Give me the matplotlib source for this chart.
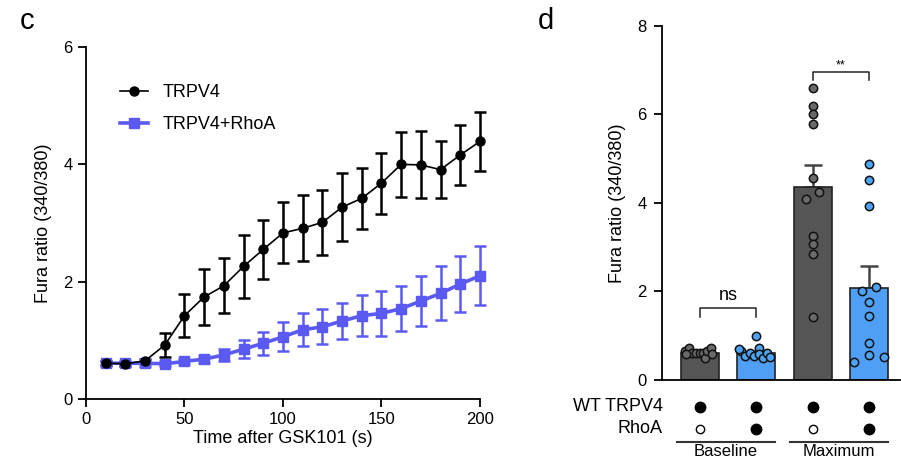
import numpy as np
import matplotlib.pyplot as plt

plt.rcParams["font.family"] = ["Liberation Sans", "DejaVu Sans"]

# ── panel c: time course ──────────────────────────────────────────────
time_s = [10, 20, 30, 40, 50, 60, 70, 80, 90, 100,
          110, 120, 130, 140, 150, 160, 170, 180, 190, 200]
trpv4_mean = [0.61, 0.60, 0.65, 0.92, 1.42, 1.74, 1.93, 2.26, 2.55, 2.83,
              2.91, 3.01, 3.27, 3.42, 3.68, 4.00, 3.99, 3.91, 4.16, 4.39]
trpv4_sem = [0.03, 0.03, 0.04, 0.20, 0.37, 0.48, 0.47, 0.53, 0.50, 0.52,
             0.56, 0.56, 0.58, 0.52, 0.52, 0.55, 0.57, 0.48, 0.51, 0.50]
rhoa_mean = [0.61, 0.61, 0.61, 0.60, 0.64, 0.68, 0.75, 0.85, 0.95, 1.06,
             1.18, 1.23, 1.33, 1.42, 1.46, 1.54, 1.67, 1.80, 1.96, 2.10]
rhoa_sem = [0.04, 0.04, 0.04, 0.04, 0.05, 0.06, 0.11, 0.15, 0.20, 0.25,
            0.28, 0.30, 0.31, 0.35, 0.38, 0.38, 0.42, 0.46, 0.48, 0.50]

# ── panel d: bars + individual cells ──────────────────────────────────
bar_means = [0.62, 0.61, 4.37, 2.09]
bar_sem = [0.03, 0.04, 0.49, 0.49]
bar_colors = ["#555555", "#4f9ff7", "#555555", "#4f9ff7"]
dot_colors = ["#6a6a6a", "#4da3f5", "#6a6a6a", "#4da3f5"]
pts_baseline_wt = [0.65, 0.72, 0.60, 0.62, 0.60, 0.60, 0.50, 0.65, 0.72, 0.58, 0.58]
jit_baseline_wt = [-0.27, -0.20, -0.15, -0.08, 0.00, 0.05, 0.08, 0.13, 0.20, 0.22, -0.24]
pts_baseline_rhoa = [0.99, 0.65, 0.55, 0.62, 0.55, 0.72, 0.58, 0.50, 0.60, 0.52, 0.70]
jit_baseline_rhoa = [0.00, -0.27, -0.20, -0.12, -0.05, 0.05, 0.05, 0.12, 0.18, 0.25, -0.30]
pts_max_wt = [6.60, 6.20, 6.01, 5.79, 4.56, 4.24, 4.10, 3.25, 3.07, 2.84, 1.42]
jit_max_wt = [0.00, 0.00, 0.00, 0.00, 0.00, 0.11, -0.12, 0.00, 0.00, 0.00, 0.00]
pts_max_rhoa = [4.88, 4.53, 3.93, 2.11, 2.02, 1.76, 1.45, 0.84, 0.56, 0.53, 0.41]
jit_max_rhoa = [0.00, 0.00, 0.00, 0.13, -0.13, 0.00, 0.00, 0.00, 0.00, 0.27, -0.26]
wt_trpv4 = [1, 1, 1, 1]
rhoa = [0, 1, 0, 1]
groups = ["Baseline", "Maximum"]

FS = 13
BLACK = "black"
BLUE = "#5a5af2"
fig = plt.figure(figsize=(9.01, 4.61), dpi=100)

# ── left panel ────────────────────────────────────────────────────────
ax = fig.add_axes([0.0954, 0.1345, 0.4373, 0.7635])
for mean, sem, col in [(trpv4_mean, trpv4_sem, BLACK), (rhoa_mean, rhoa_sem, BLUE)]:
    eb = ax.errorbar(time_s, mean, yerr=sem, fmt="none", ecolor=col,
                     elinewidth=1.8, capsize=4.5, capthick=1.8, zorder=2)
    for art in eb.lines[1] + eb.lines[2]:
        art.set_clip_on(False)
ax.plot(time_s, rhoa_mean, color=BLUE, lw=2.6, marker="s", ms=7,
        label="TRPV4+RhoA", zorder=3, clip_on=False)
ax.plot(time_s, trpv4_mean, color=BLACK, lw=1.2, marker="o", ms=6.5,
        label="TRPV4", zorder=4, clip_on=False)
h, l = ax.get_legend_handles_labels()
ax.legend(h[::-1], l[::-1], loc="upper left", bbox_to_anchor=(0.045, 0.94),
          frameon=False, fontsize=FS, handlelength=1.55, labelspacing=0.8,
          handletextpad=0.8)
ax.set_xlim(0, 200)
ax.set_ylim(0, 6)
ax.set_xticks([0, 50, 100, 150, 200])
ax.set_yticks([0, 2, 4, 6])
ax.spines[["top", "right"]].set_visible(False)
ax.spines[["left", "bottom"]].set_linewidth(1.3)
ax.tick_params(labelsize=12, width=1.3, length=6)
ax.set_xlabel("Time after GSK101 (s)", fontsize=FS, labelpad=2)
ax.set_ylabel("Fura ratio (340/380)", fontsize=FS, labelpad=8)

# ── right panel ───────────────────────────────────────────────────────
bx = fig.add_axes([0.7347, 0.1757, 0.2643, 0.768])
pos = np.arange(len(bar_means))
bx.bar(pos, bar_means, width=0.67, color=bar_colors, edgecolor="#222222",
       linewidth=1.2, zorder=2)
bx.errorbar(pos, bar_means, yerr=[np.zeros(len(bar_sem)), bar_sem], fmt="none",
            ecolor="#444444", elinewidth=1.8, capsize=6.5, capthick=1.8, zorder=1)
all_pts = [pts_baseline_wt, pts_baseline_rhoa, pts_max_wt, pts_max_rhoa]
all_jit = [jit_baseline_wt, jit_baseline_rhoa, jit_max_wt, jit_max_rhoa]
for i, (vals, jit) in enumerate(zip(all_pts, all_jit)):
    bx.scatter(np.array(jit) + pos[i], vals, s=36, color=dot_colors[i],
               edgecolor="#111111", linewidth=1.1, zorder=4, clip_on=False)

bx.set_xlim(-0.675, 3.55)
bx.set_ylim(0, 8)
bx.set_yticks([0, 2, 4, 6, 8])
bx.set_xticks([])
bx.spines[["top", "right"]].set_visible(False)
bx.spines[["left", "bottom"]].set_linewidth(1.3)
bx.tick_params(labelsize=12, width=1.3, length=6, pad=5)
bx.set_ylabel("Fura ratio (340/380)", fontsize=FS, labelpad=8)

# significance brackets
bx.plot([0, 0, 1, 1], [1.43, 1.62, 1.62, 1.43], color="#222222", lw=1.1)
bx.text(0.5, 1.72, "ns", ha="center", va="bottom", fontsize=FS)
bx.plot([2, 2, 3, 3], [6.78, 6.97, 6.97, 6.78], color="#222222", lw=1.1)
bx.text(2.5, 6.98, "**", ha="center", va="bottom", fontsize=9)

# genotype table under the bars
trans = bx.get_xaxis_transform()
bx.text(-0.66, -0.076, "WT TRPV4", transform=trans, ha="right", va="center",
        fontsize=FS)
bx.text(-0.66, -0.138, "RhoA", transform=trans, ha="right", va="center",
        fontsize=FS)
for i in pos:
    bx.plot(i, -0.076, "o", transform=trans, ms=7.5, color="black",
            mfc="black" if wt_trpv4[i] else "white", clip_on=False)
    bx.plot(i, -0.138, "o", transform=trans, ms=7.5 if rhoa[i] else 6,
            color="black", mfc="black" if rhoa[i] else "white",
            mew=1.0, clip_on=False)
for g, name in enumerate(groups):
    x0, x1 = 2 * g - 0.41, 2 * g + 1.33
    bx.plot([x0, x1], [-0.174, -0.174], transform=trans, color="#333333",
            lw=1.5, clip_on=False)
    bx.text((x0 + x1) / 2, -0.18, name, transform=trans, ha="center",
            va="top", fontsize=12)

fig.text(0.022, 0.955, "c", fontsize=21, va="center")
fig.text(0.597, 0.955, "d", fontsize=21, va="center")

fig.savefig("out.png", dpi=100)
